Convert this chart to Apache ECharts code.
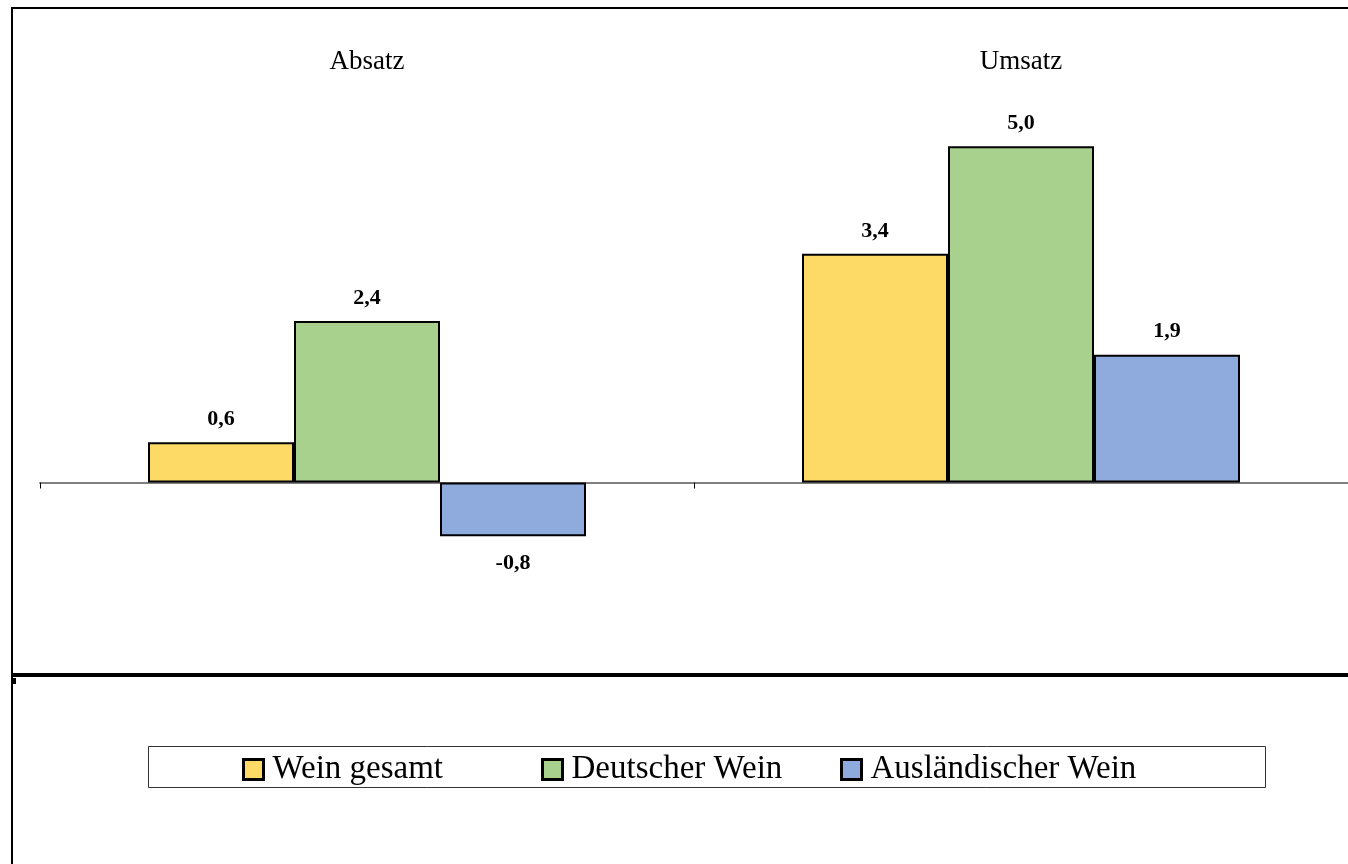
<!DOCTYPE html>
<html>
<head>
<meta charset="utf-8">
<script src="https://cdn.jsdelivr.net/npm/echarts@6/dist/echarts.min.js"></script>
<style>
  html, body { margin: 0; padding: 0; background: #fff; }
  #chart { width: 1348px; height: 864px; }
</style>
</head>
<body>
<div id="chart"></div>
<script>
// Daten
var categories = ['Absatz', 'Umsatz'];
var seriesNames = ['Wein gesamt', 'Deutscher Wein', 'Ausländischer Wein'];
var weinGesamt = [0.6, 3.4];
var deutscherWein = [2.4, 5.0];
var auslaendischerWein = [-0.8, 1.9];
var colors = ['#FDD966', '#A9D18E', '#8FAADC'];

var font = '"Liberation Serif", "DejaVu Serif", serif';

function fmt(v) {
    return v.toFixed(1).replace('.', ',');
}

function makeSeries(name, values, color) {
    return {
        name: name,
        type: 'bar',
        xAxisIndex: 0,
        barGap: 0,
        barWidth: 146,
        itemStyle: { color: color, borderColor: '#000', borderWidth: 2 },
        data: values.map(function (v) {
            return {
                value: v,
                label: { position: v < 0 ? 'bottom' : 'top', distance: v < 0 ? 16 : 12 }
            };
        }),
        label: {
            show: true,
            fontFamily: font,
            fontWeight: 'bold',
            fontSize: 22,
            color: '#000',
            formatter: function (p) { return fmt(p.value); }
        }
    };
}

// Legende in festen Spalten wie im Original
var legendLeft = [237, 536, 835];
var legends = seriesNames.map(function (name, i) {
    return {
        left: legendLeft[i],
        top: 748,
        itemWidth: 20,
        itemHeight: 20,
        icon: 'rect',
        textStyle: { fontFamily: font, fontSize: 33, color: '#000', padding: [0, 0, 0, 4] },
        itemStyle: { borderColor: '#000', borderWidth: 3 },
        data: [name]
    };
});

var myChart = echarts.init(document.getElementById('chart'));
var option = {
    backgroundColor: '#fff',
    animation: false,
    grid: { left: 40, width: 1312, top: 79, height: 538 },
    xAxis: [{
        type: 'category',
        data: categories,
        axisLine: { onZero: true, lineStyle: { color: '#808080', width: 2 } },
        axisTick: { show: true, length: 6, lineStyle: { color: '#000', width: 1 } },
        axisLabel: { show: false }
    }, {
        type: 'category',
        data: categories,
        position: 'top',
        axisLine: { show: false },
        axisTick: { show: false },
        axisLabel: { margin: 4, fontFamily: font, fontSize: 27, color: '#000' }
    }],
    yAxis: {
        type: 'value',
        min: -2,
        max: 6,
        show: false
    },
    legend: legends,
    graphic: [
        { type: 'line', shape: { x1: 11, y1: 8, x2: 1348, y2: 8 }, style: { stroke: '#000', lineWidth: 2 } },
        { type: 'line', shape: { x1: 12, y1: 8, x2: 12, y2: 864 }, style: { stroke: '#000', lineWidth: 2 } },
        { type: 'line', shape: { x1: 11, y1: 675, x2: 1348, y2: 675 }, style: { stroke: '#000', lineWidth: 4 } },
        { type: 'rect', shape: { x: 11, y: 678, width: 5, height: 6 }, style: { fill: '#000' } },
        { type: 'rect', shape: { x: 148.5, y: 746.5, width: 1117, height: 41 }, style: { fill: 'none', stroke: '#333', lineWidth: 1 }, z: -1 }
    ],
    series: [
        makeSeries(seriesNames[0], weinGesamt, colors[0]),
        makeSeries(seriesNames[1], deutscherWein, colors[1]),
        makeSeries(seriesNames[2], auslaendischerWein, colors[2])
    ]
};
myChart.setOption(option, true);
</script>
</body>
</html>
